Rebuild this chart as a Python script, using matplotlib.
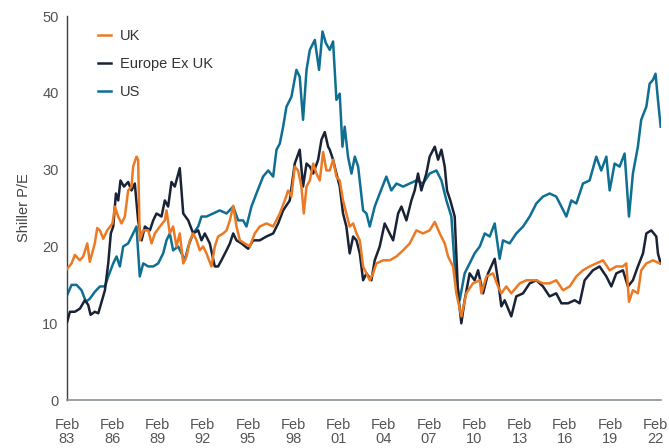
import matplotlib
matplotlib.use("Agg")
import matplotlib.pyplot as plt

# Shiller P/E readings, decimal years (Feb 83 = 1983.08)
uk_years = [1983.10, 1983.39, 1983.61, 1983.94, 1984.16, 1984.43, 1984.60, 1984.93, 1985.09, 1985.27,
            1985.49, 1985.75, 1986.10, 1986.26, 1986.48, 1986.70, 1986.92, 1987.14, 1987.36, 1987.47,
            1987.69, 1987.80, 1987.91, 1988.14, 1988.47, 1988.69, 1988.91, 1989.24, 1989.57, 1989.68,
            1989.90, 1990.12, 1990.34, 1990.56, 1990.79, 1991.01, 1991.23, 1991.45, 1991.67, 1991.89,
            1992.11, 1992.33, 1992.66, 1992.88, 1993.10, 1993.44, 1993.66, 1993.88, 1994.10, 1994.32,
            1994.54, 1994.87, 1995.20, 1995.53, 1995.86, 1996.30, 1996.75, 1997.19, 1997.52, 1997.74,
            1997.96, 1998.18, 1998.40, 1998.62, 1998.78, 1998.96, 1999.18, 1999.40, 1999.62, 1999.84,
            2000.06, 2000.28, 2000.50, 2000.72, 2000.94, 2001.16, 2001.38, 2001.60, 2001.82, 2002.05,
            2002.27, 2002.49, 2002.71, 2002.93, 2003.15, 2003.37, 2003.59, 2004.03, 2004.47, 2004.92,
            2005.36, 2005.80, 2006.24, 2006.68, 2007.12, 2007.46, 2007.79, 2008.12, 2008.34, 2008.67,
            2008.89, 2009.22, 2009.55, 2009.99, 2010.44, 2010.55, 2010.88, 2011.32, 2011.65, 2011.87,
            2012.20, 2012.53, 2013.09, 2013.53, 2014.19, 2014.63, 2015.07, 2015.51, 2015.96, 2016.40,
            2016.84, 2017.28, 2017.72, 2018.16, 2018.61, 2019.05, 2019.49, 2019.93, 2020.15, 2020.33,
            2020.59, 2020.92, 2021.14, 2021.48, 2021.92, 2022.36]
uk_pe = [17.1, 17.8, 18.9, 18.2, 18.7, 20.4, 18.0, 20.4, 22.4, 22.1,
         21.0, 22.1, 23.0, 25.2, 23.9, 23.0, 23.9, 27.3, 27.8, 30.4,
         31.7, 31.3, 20.8, 22.1, 22.1, 20.4, 21.7, 22.6, 23.4, 24.7,
         21.7, 22.6, 20.0, 21.7, 17.8, 18.7, 20.8, 21.7, 20.8, 19.5,
         20.0, 19.1, 17.4, 20.0, 21.3, 21.7, 22.1, 23.4, 25.3, 22.6,
         20.8, 20.4, 20.0, 21.7, 22.6, 23.0, 22.6, 24.3, 26.0, 27.3,
         26.5, 30.4, 29.9, 27.8, 24.3, 27.8, 28.6, 30.8, 29.5, 28.6,
         32.3, 29.9, 29.9, 31.3, 29.1, 28.6, 26.0, 24.3, 22.6, 23.0,
         21.7, 20.8, 17.4, 16.5, 15.6, 16.5, 17.8, 18.2, 18.2, 18.7,
         19.5, 20.4, 22.1, 21.7, 22.1, 23.2, 21.7, 20.4, 18.7, 17.4,
         13.9, 10.9, 13.9, 15.2, 15.6, 13.9, 16.1, 16.5, 14.8, 13.9,
         14.8, 13.9, 15.2, 15.6, 15.6, 15.2, 15.2, 15.6, 14.3, 14.8,
         16.1, 16.9, 17.4, 17.8, 18.2, 16.9, 17.4, 17.4, 17.8, 12.8,
         14.3, 13.9, 16.9, 17.8, 18.2, 17.8]

eu_years = [1983.10, 1983.28, 1983.61, 1983.94, 1984.27, 1984.49, 1984.65, 1984.93, 1985.16, 1985.38,
            1985.60, 1985.82, 1985.99, 1986.15, 1986.33, 1986.48, 1986.63, 1986.86, 1987.14, 1987.36,
            1987.58, 1987.80, 1988.03, 1988.25, 1988.58, 1988.80, 1989.02, 1989.35, 1989.57, 1989.79,
            1990.01, 1990.23, 1990.56, 1990.79, 1991.12, 1991.45, 1991.78, 1992.00, 1992.22, 1992.55,
            1992.88, 1993.10, 1993.32, 1993.66, 1993.88, 1994.10, 1994.32, 1994.65, 1995.09, 1995.42,
            1995.86, 1996.30, 1996.75, 1997.08, 1997.41, 1997.85, 1998.18, 1998.51, 1998.73, 1998.96,
            1999.18, 1999.40, 1999.73, 1999.95, 2000.17, 2000.39, 2000.50, 2000.72, 2000.94, 2001.16,
            2001.38, 2001.60, 2001.82, 2002.05, 2002.27, 2002.49, 2002.71, 2002.93, 2003.26, 2003.48,
            2003.81, 2004.14, 2004.47, 2004.70, 2005.03, 2005.25, 2005.58, 2005.91, 2006.13, 2006.35,
            2006.57, 2006.90, 2007.12, 2007.46, 2007.68, 2007.90, 2008.12, 2008.27, 2008.49, 2008.78,
            2009.00, 2009.22, 2009.44, 2009.77, 2010.10, 2010.33, 2010.66, 2010.99, 2011.43, 2011.65,
            2011.87, 2012.09, 2012.53, 2012.86, 2013.31, 2013.75, 2014.19, 2014.63, 2015.07, 2015.51,
            2015.85, 2016.29, 2016.73, 2017.06, 2017.39, 2017.94, 2018.38, 2018.83, 2019.16, 2019.49,
            2019.93, 2020.26, 2020.59, 2020.92, 2021.26, 2021.48, 2021.81, 2022.14, 2022.25, 2022.43]
eu_pe = [10.2, 11.5, 11.5, 11.9, 13.0, 12.4, 11.1, 11.5, 11.3, 12.8,
         14.3, 17.8, 21.7, 22.6, 26.9, 26.0, 28.6, 27.8, 28.4, 27.3,
         28.2, 23.4, 20.8, 22.6, 22.1, 23.4, 24.3, 23.9, 26.0, 25.2,
         28.4, 27.8, 30.2, 24.3, 23.4, 21.7, 22.1, 20.8, 21.7, 20.4,
         17.4, 17.4, 18.2, 19.5, 20.4, 21.7, 20.8, 20.4, 19.7, 20.8,
         20.8, 21.3, 21.7, 23.0, 24.7, 26.0, 30.8, 32.6, 27.8, 30.8,
         30.4, 29.5, 31.3, 33.9, 34.9, 33.0, 32.6, 31.3, 29.5, 27.8,
         24.3, 22.6, 19.1, 21.3, 20.8, 19.1, 15.6, 16.5, 15.6, 18.2,
         20.0, 23.0, 21.7, 20.8, 24.3, 25.2, 23.4, 26.0, 27.3, 29.5,
         27.3, 29.5, 31.7, 33.0, 31.3, 32.6, 30.4, 27.3, 26.0, 23.9,
         13.9, 10.0, 13.0, 16.5, 15.6, 16.9, 13.9, 16.5, 18.4, 15.6,
         12.2, 13.0, 10.9, 13.5, 13.9, 15.2, 15.6, 14.8, 13.5, 13.9,
         12.6, 12.6, 13.0, 12.6, 15.6, 16.9, 17.4, 16.1, 14.8, 16.5,
         16.9, 14.8, 15.6, 17.4, 19.1, 21.7, 22.1, 21.3, 19.1, 17.8]

us_years = [1983.10, 1983.39, 1983.72, 1984.05, 1984.34, 1984.60, 1984.93, 1985.27, 1985.60, 1985.82,
            1986.15, 1986.37, 1986.59, 1986.81, 1987.14, 1987.47, 1987.69, 1987.91, 1988.14, 1988.47,
            1988.80, 1989.13, 1989.46, 1989.68, 1989.90, 1990.12, 1990.45, 1990.68, 1990.90, 1991.12,
            1991.45, 1991.78, 1992.00, 1992.33, 1992.77, 1993.21, 1993.66, 1994.10, 1994.43, 1994.76,
            1994.98, 1995.31, 1995.64, 1996.08, 1996.42, 1996.75, 1996.97, 1997.19, 1997.41, 1997.63,
            1997.96, 1998.29, 1998.51, 1998.73, 1998.96, 1999.18, 1999.51, 1999.79, 2000.02, 2000.24,
            2000.50, 2000.72, 2000.94, 2001.16, 2001.34, 2001.49, 2001.71, 2001.94, 2002.16, 2002.38,
            2002.71, 2002.93, 2003.15, 2003.48, 2003.81, 2004.25, 2004.58, 2004.92, 2005.36, 2005.80,
            2006.24, 2006.68, 2007.12, 2007.57, 2007.90, 2008.23, 2008.56, 2008.78, 2009.11, 2009.44,
            2009.77, 2010.10, 2010.44, 2010.77, 2011.10, 2011.43, 2011.76, 2011.98, 2012.42, 2012.86,
            2013.31, 2013.75, 2014.19, 2014.63, 2015.07, 2015.51, 2015.85, 2016.18, 2016.51, 2016.84,
            2017.28, 2017.72, 2018.16, 2018.49, 2018.83, 2019.05, 2019.38, 2019.71, 2020.04, 2020.33,
            2020.59, 2020.92, 2021.14, 2021.48, 2021.70, 2021.92, 2022.09, 2022.25, 2022.43]
us_pe = [13.7, 15.0, 15.0, 14.3, 12.8, 13.2, 14.1, 14.8, 14.8, 16.1,
         17.8, 18.7, 17.4, 20.0, 20.4, 21.7, 22.6, 16.1, 17.8, 17.4,
         17.4, 17.8, 19.1, 20.8, 21.7, 19.5, 20.0, 19.1, 18.2, 20.0,
         21.7, 22.6, 23.9, 23.9, 24.3, 24.7, 24.3, 25.2, 23.4, 23.4,
         22.6, 25.2, 26.9, 29.1, 29.9, 29.1, 32.6, 33.4, 35.6, 38.2,
         39.5, 43.0, 42.1, 36.5, 43.0, 45.6, 46.9, 43.0, 48.0, 46.5,
         45.6, 46.7, 39.1, 39.9, 33.0, 35.6, 31.7, 29.5, 31.7, 30.4,
         24.7, 24.3, 22.6, 25.2, 26.9, 29.1, 27.3, 28.2, 27.8, 28.2,
         28.6, 28.2, 29.5, 29.9, 28.6, 26.0, 23.9, 17.4, 13.0, 16.5,
         17.8, 19.1, 20.0, 21.7, 21.3, 23.0, 18.4, 20.8, 20.4, 21.7,
         22.6, 23.9, 25.6, 26.5, 26.9, 26.5, 25.2, 23.9, 26.0, 25.6,
         28.2, 28.6, 31.7, 29.9, 31.7, 27.3, 30.8, 30.4, 32.1, 23.9,
         29.5, 33.0, 36.5, 38.2, 41.2, 41.7, 42.5, 39.1, 35.6]

tick_years = list(range(1983, 2023, 3))
tick_labels = [f"Feb\n{y % 100:02d}" for y in tick_years]

uk_color = "#EC7A24"
eu_color = "#1A2335"
us_color = "#0E6F93"

plt.rcParams["font.family"] = ["Liberation Sans", "DejaVu Sans"]

fig = plt.figure(figsize=(6.69, 4.48), dpi=100)
ax = fig.add_axes([0.100, 0.107, 0.888, 0.857])

l_us, = ax.plot(us_years, us_pe, color=us_color, lw=1.8, label="US", zorder=2)
l_eu, = ax.plot(eu_years, eu_pe, color=eu_color, lw=1.8, label="Europe Ex UK", zorder=3)
l_uk, = ax.plot(uk_years, uk_pe, color=uk_color, lw=1.8, label="UK", zorder=4)

ax.set_xlim(1983.08, 2022.45)
ax.set_ylim(0, 50)
ax.set_xticks([y + 0.08 for y in tick_years])
ax.set_xticklabels(tick_labels, linespacing=0.95)
ax.set_yticks(range(0, 51, 10))
ax.tick_params(length=0, labelsize=10.5, labelcolor="#555555")
ax.tick_params(axis="x", pad=13)
ax.tick_params(axis="y", pad=6)

for side in ["top", "right"]:
    ax.spines[side].set_visible(False)
ax.spines["left"].set_color("#3a3f47")
ax.spines["bottom"].set_color("#8a9096")
ax.spines["left"].set_linewidth(1.0)
ax.spines["bottom"].set_linewidth(1.2)

ax.set_ylabel("Shiller P/E", fontsize=10.5, color="#444444", labelpad=8)

leg = ax.legend(handles=[l_uk, l_eu, l_us], loc="upper left", bbox_to_anchor=(0.03, 1.0),
                frameon=False, fontsize=10.5, handlelength=0.9, handletextpad=0.6,
                labelspacing=0.95)
for t in leg.get_texts():
    t.set_color("#333333")

fig.savefig("out.png", dpi=100)
